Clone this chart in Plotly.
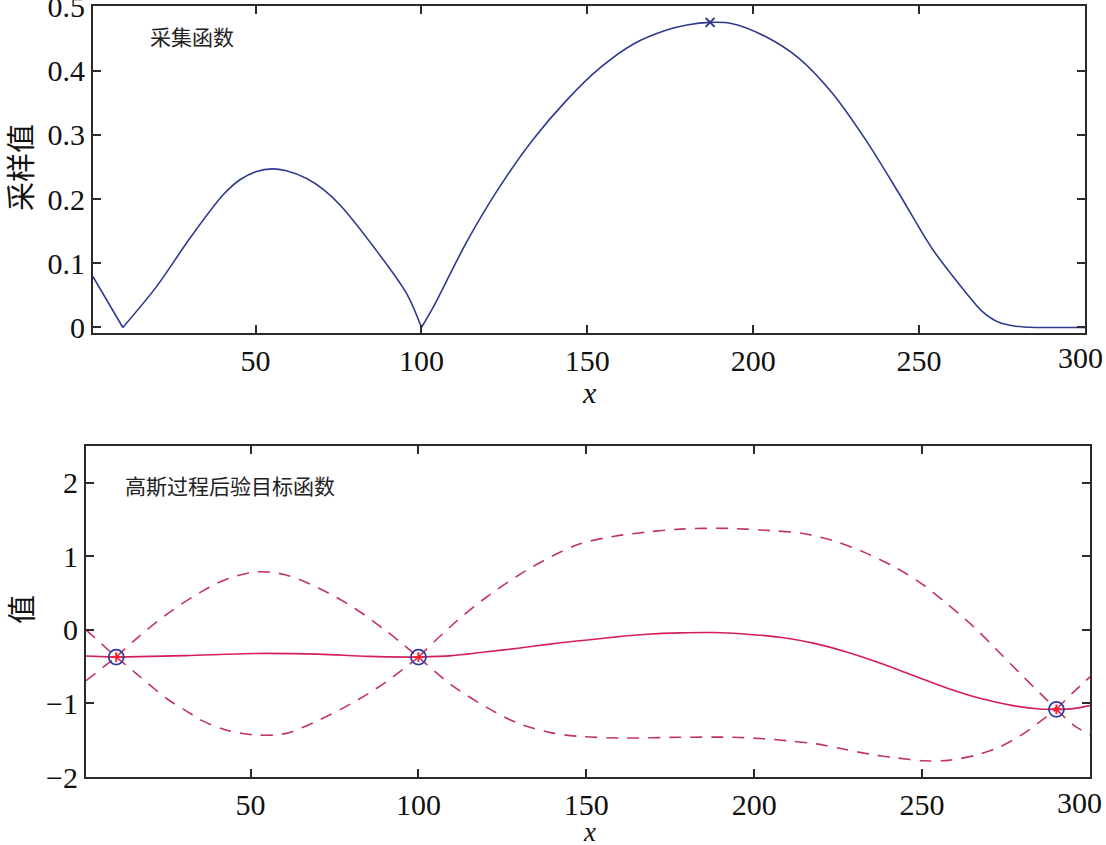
import plotly.graph_objects as go

# ---- top panel: acquisition function ----
acq_x = [1, 10, 20.2, 30.2, 40.3, 45.3, 50.3, 55, 59.3, 65.4, 70.4, 75.4, 85.5, 95.5, 100,
         103.6, 113.6, 123.7, 133.7, 143.8, 153.8, 163.8, 173.9, 180, 187, 193.7, 203.7,
         213.8, 223.8, 233.9, 243.9, 253.9, 264, 269, 274, 279, 285, 290, 300]
acq_y = [0.079, 0.0, 0.064, 0.139, 0.207, 0.230, 0.243, 0.247, 0.244, 0.232, 0.215, 0.191, 0.126, 0.053, 0.0,
         0.032, 0.133, 0.220, 0.293, 0.354, 0.404, 0.441, 0.463, 0.471, 0.475, 0.473, 0.453,
         0.419, 0.365, 0.292, 0.209, 0.123, 0.055, 0.025, 0.008, 0.002, 0.0, 0.0, 0.0]
acq_breaks = [10, 100]          # sampled points where the curve has a sharp corner
next_x = [187]
next_y = [0.475]

# ---- bottom panel: GP posterior ----
mean_x = [1, 10, 30.5, 51.3, 70.2, 85.1, 100, 109.9, 119.8, 129.7, 139.7, 149.6, 158, 168,
          177.9, 187.8, 197.8, 207.7, 217.6, 227.5, 237.4, 247.4, 257.3, 267.2, 277.1, 285.1,
          290, 295, 300]
mean_y = [-0.354, -0.37, -0.35, -0.32, -0.33, -0.36, -0.37, -0.35, -0.30, -0.25, -0.19, -0.14,
          -0.10, -0.06, -0.04, -0.036, -0.059, -0.10, -0.18, -0.30, -0.45, -0.62, -0.79, -0.93,
          -1.03, -1.075, -1.08, -1.07, -1.03]
up_x = [1, 10, 15.6, 25.5, 35.4, 43.4, 52.3, 60.3, 70.2, 80.1, 90, 100, 109.9, 119.8, 129.7,
        139.7, 148.1, 158, 168, 177.9, 191.8, 204.7, 214.6, 224.5, 233.5, 242.4, 250.4, 257.3,
        265.3, 272.2, 279.1, 285.1, 290, 295, 300]
up_y = [0.0, -0.37, -0.136, 0.227, 0.52, 0.70, 0.79, 0.75, 0.57, 0.32, 0.0, -0.37, 0.06, 0.43,
        0.74, 1.0, 1.17, 1.27, 1.33, 1.37, 1.38, 1.35, 1.31, 1.20, 1.04, 0.84, 0.61, 0.36,
        0.045, -0.27, -0.59, -0.86, -1.08, -0.85, -0.64]
lo_x = [1, 10, 15.6, 25.5, 30.5, 35.4, 43.4, 52.3, 60.3, 70.2, 80.1, 90, 100, 109.9, 119.8,
        129.7, 139.7, 148.6, 161, 177.9, 193.8, 202.7, 210.6, 218.5, 226.5, 234.4, 242.4, 250.4,
        258.3, 266.3, 273.2, 280.2, 287.1, 290, 295, 300]
lo_y = [-0.69, -0.37, -0.58, -0.95, -1.09, -1.23, -1.37, -1.43, -1.41, -1.23, -1.00, -0.72,
        -0.37, -0.75, -1.04, -1.27, -1.40, -1.45, -1.47, -1.46, -1.46, -1.48, -1.51, -1.55,
        -1.62, -1.69, -1.74, -1.78, -1.77, -1.70, -1.59, -1.41, -1.18, -1.08, -1.29, -1.43]
obs_x = [10, 100, 290]
obs_y = [-0.37, -0.37, -1.08]

x_ticks = [50, 100, 150, 200, 250, 300]
x_ticktext = ["50", "100", "150", "200", "250", "300"]
top_ticks_y = [0, 0.1, 0.2, 0.3, 0.4, 0.5]
top_ticktext_y = ["0", "0.1", "0.2", "0.3", "0.4", "0.5"]
bot_ticks_y = [-2, -1, 0, 1, 2]

NAVY = "#2e3a8c"
RED = "#d41f5c"
DASH = "#c23468"
AX = "#2a2a2a"
W, H = 1106, 845


def segments(xs, ys, breaks):
    """Split a series at the given x values (kept in both pieces) so corners stay sharp."""
    out, cur_x, cur_y = [], [], []
    for x, y in zip(xs, ys):
        cur_x.append(x)
        cur_y.append(y)
        if x in breaks:
            out.append((cur_x, cur_y))
            cur_x, cur_y = [x], [y]
    if len(cur_x) > 1:
        out.append((cur_x, cur_y))
    return out


fig = go.Figure()
for sx, sy in segments(acq_x, acq_y, acq_breaks):
    fig.add_trace(go.Scatter(x=sx, y=sy, mode="lines", line=dict(color=NAVY, width=1.6, shape="spline", smoothing=0.9),
                             xaxis="x", yaxis="y", showlegend=False))
fig.add_trace(go.Scatter(x=next_x, y=next_y, mode="markers",
                         marker=dict(symbol="x-thin-open", size=9, color=NAVY, line=dict(color=NAVY, width=2)),
                         xaxis="x", yaxis="y", showlegend=False))

for xs, ys, col, dash in [(up_x, up_y, DASH, "12px,9px"), (lo_x, lo_y, DASH, "12px,9px"),
                          (mean_x, mean_y, RED, "solid")]:
    for sx, sy in segments(xs, ys, obs_x):
        fig.add_trace(go.Scatter(x=sx, y=sy, mode="lines",
                                 line=dict(color=col, width=1.6, dash=dash, shape="spline", smoothing=0.9),
                                 xaxis="x2", yaxis="y2", showlegend=False))
fig.add_trace(go.Scatter(x=obs_x, y=obs_y, mode="markers",
                         marker=dict(symbol="cross-thin-open", size=7, color="#ff2030",
                                     line=dict(color="#ff2030", width=2)),
                         xaxis="x2", yaxis="y2", showlegend=False))
fig.add_trace(go.Scatter(x=obs_x, y=obs_y, mode="markers",
                         marker=dict(symbol="circle-open", size=15, color="#2f3ba0",
                                     line=dict(color="#2f3ba0", width=1.8)),
                         xaxis="x2", yaxis="y2", showlegend=False))

tickfont = dict(family="Liberation Serif", size=30, color="#111")
common = dict(showline=True, linecolor=AX, linewidth=2, mirror="ticks", ticks="inside",
              ticklen=8, tickwidth=2, tickcolor=AX, showgrid=False, zeroline=False,
              tickfont=tickfont, ticklabeloverflow="allow", automargin=False)

# last x tick label is drawn separately so it stays inside the page (as in the original)
xtt = x_ticktext[:-1] + [""]

fig.update_layout(
    width=W, height=H, margin=dict(l=0, r=0, t=0, b=0, autoexpand=False),
    paper_bgcolor="white", plot_bgcolor="white",
    xaxis=dict(domain=[93 / W, 1085 / W], range=[1, 300], tickvals=x_ticks, ticktext=xtt, anchor="y", **common),
    yaxis=dict(domain=[1 - 333 / H, 1 - 6 / H], range=[-0.0086, 0.5005], tickvals=top_ticks_y,
               ticktext=top_ticktext_y, anchor="x", **common),
    xaxis2=dict(domain=[86 / W, 1090 / W], range=[1, 300], tickvals=x_ticks, ticktext=xtt, anchor="y2", **common),
    yaxis2=dict(domain=[1 - 777 / H, 1 - 446 / H], range=[-2, 2.5], tickvals=bot_ticks_y, anchor="x2", **common),
)

cjk = "Noto Sans CJK SC"
ann = [
    dict(x=148 / W, y=1 - 36 / H, text="采集函数", font=dict(family=cjk, size=21, color="#222"),
         xanchor="left", yanchor="middle"),
    dict(x=123 / W, y=1 - 485 / H, text="高斯过程后验目标函数", font=dict(family=cjk, size=21, color="#222"),
         xanchor="left", yanchor="middle"),
    dict(x=589 / W, y=1 - 392 / H, text="<i>x</i>", font=dict(family="Liberation Serif", size=30, color="#111"),
         xanchor="center", yanchor="middle"),
    dict(x=589 / W, y=1 - 832 / H, text="<i>x</i>", font=dict(family="Liberation Serif", size=27, color="#111"),
         xanchor="center", yanchor="middle"),
    dict(x=19 / W, y=1 - 168 / H, text="采样值", textangle=-90, font=dict(family=cjk, size=29, color="#111"),
         xanchor="center", yanchor="middle"),
    dict(x=20 / W, y=1 - 610 / H, text="值", textangle=-90, font=dict(family=cjk, size=29, color="#111"),
         xanchor="center", yanchor="middle"),
]
for a in ann:
    a.update(xref="paper", yref="paper", showarrow=False)
ann += [
    dict(x=x_ticks[-1], xref="x", y=1 - 357 / H, yref="paper", text=x_ticktext[-1], showarrow=False,
         font=tickfont, xanchor="right", yanchor="middle", xshift=20),
    dict(x=x_ticks[-1], xref="x2", y=1 - 802 / H, yref="paper", text=x_ticktext[-1], showarrow=False,
         font=tickfont, xanchor="right", yanchor="middle", xshift=14),
]
fig.update_layout(annotations=ann)

fig.write_html("out.html", config={"displayModeBar": False},
               post_script="document.body.style.margin='0';")
